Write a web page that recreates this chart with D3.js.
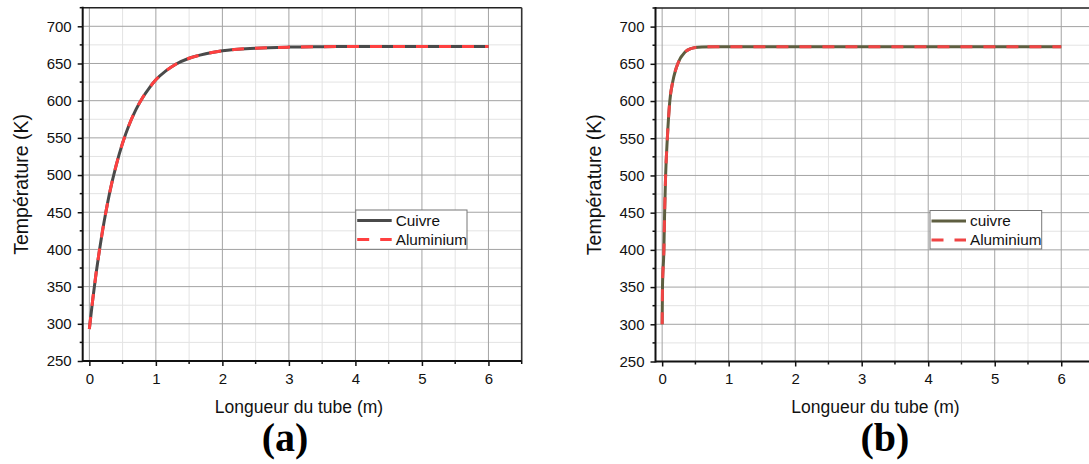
<!DOCTYPE html>
<html>
<head>
<meta charset="utf-8">
<script src="https://cdn.jsdelivr.net/npm/d3@7"></script>
<style>
  html, body { margin: 0; padding: 0; background: #fff; }
  svg { display: block; }
  text { font-family: "Liberation Sans", Arial, sans-serif; fill: #111; }
  text.tag { font-family: "Liberation Serif", "Times New Roman", serif; font-weight: bold; fill: #000; }
</style>
</head>
<body>
<svg id="chart" width="1089" height="464"></svg>
<script>
// ---- Data ----
// Panel (a)
const xA = [0, 0.05, 0.1, 0.15, 0.2, 0.25, 0.3, 0.4, 0.5, 0.6, 0.7, 0.8, 0.9, 1.0, 1.15, 1.3, 1.5, 1.75, 2.0, 2.5, 3.0, 3.5, 4.0, 5.0, 6.0];
const cuivreA = [293, 332, 367, 398, 426, 451, 474, 512, 543, 568, 588, 604, 617, 628, 640, 649, 657, 663, 667, 670.5, 672, 672.6, 673, 673, 673];
const aluminiumA = [293, 332, 367, 398, 426, 451, 474, 512, 543, 568, 588, 604, 617, 628, 640, 649, 657, 663, 667, 670.5, 672, 672.6, 673, 673, 673];
// Panel (b)
const xB = [0, 0.005, 0.026, 0.037, 0.052, 0.078, 0.115, 0.157, 0.2, 0.235, 0.27, 0.31, 0.36, 0.42, 0.5, 0.6, 0.8, 1.0, 2.0, 3.0, 4.0, 5.0, 6.0];
const cuivreB = [300, 350, 400, 450, 500, 550, 600, 625, 641, 650, 657, 662, 667, 670, 672, 672.7, 673, 673, 673, 673, 673, 673, 673];
const aluminiumB = [300, 350, 400, 450, 500, 550, 600, 625, 641, 650, 657, 662, 667, 670, 672, 672.7, 673, 673, 673, 673, 673, 673, 673];

const xTicks = [0, 1, 2, 3, 4, 5, 6];
const yTicks = [250, 300, 350, 400, 450, 500, 550, 600, 650, 700];
const xMinor = [0.5, 1.5, 2.5, 3.5, 4.5, 5.5, 6.5];
const yMinor = [275, 325, 375, 425, 475, 525, 575, 625, 675, 725];
const legendA = ["Cuivre", "Aluminium"];
const legendB = ["cuivre", "Aluminium"];
const xTitle = "Longueur du tube (m)";
const yTitle = "Température (K)";

const svg = d3.select("#chart");

function panel(opts) {
  const { left, right, top, bottom, xs, s1, s2, names, c1, c2, tag, legX, legY, legW, legH, labX, tagX, id } = opts;
  const x = d3.scaleLinear().domain([-0.1, 6.5]).range([left, right]);
  const y = d3.scaleLinear().domain([250, 725]).range([bottom, top]);
  const g = svg.append("g");

  g.append("clipPath").attr("id", "clip" + id)
    .append("rect").attr("x", left).attr("y", top).attr("width", right - left).attr("height", bottom - top);

  // minor grid
  g.append("g").selectAll("line").data(xMinor).join("line")
    .attr("x1", d => x(d)).attr("x2", d => x(d)).attr("y1", top).attr("y2", bottom)
    .attr("stroke", "#e3e3e3").attr("stroke-width", 1);
  g.append("g").selectAll("line").data(yMinor).join("line")
    .attr("x1", left).attr("x2", right).attr("y1", d => y(d)).attr("y2", d => y(d))
    .attr("stroke", "#e3e3e3").attr("stroke-width", 1);
  // major grid
  g.append("g").selectAll("line").data(xTicks).join("line")
    .attr("x1", d => x(d)).attr("x2", d => x(d)).attr("y1", top).attr("y2", bottom)
    .attr("stroke", "#a3a3a3").attr("stroke-width", 1);
  g.append("g").selectAll("line").data(yTicks.filter(d => d > 250)).join("line")
    .attr("x1", left).attr("x2", right).attr("y1", d => y(d)).attr("y2", d => y(d))
    .attr("stroke", "#a3a3a3").attr("stroke-width", 1);

  // frame (top & right)
  g.append("line").attr("x1", left).attr("x2", right).attr("y1", top).attr("y2", top)
    .attr("stroke", "#222").attr("stroke-width", 1.6);
  g.append("line").attr("x1", right).attr("x2", right).attr("y1", top).attr("y2", bottom)
    .attr("stroke", "#333").attr("stroke-width", 1.6);

  // axes
  const xAxis = d3.axisBottom(x).tickValues(xTicks).tickSize(5).tickPadding(7).tickFormat(d3.format("d"));
  const yAxis = d3.axisLeft(y).tickValues(yTicks).tickSize(5).tickPadding(6).tickFormat(d3.format("d"));
  const gx = g.append("g").attr("transform", `translate(0,${bottom})`).call(xAxis);
  const gy = g.append("g").attr("transform", `translate(${left},0)`).call(yAxis);
  [gx, gy].forEach(a => {
    a.select(".domain").remove();
    a.selectAll(".tick line").attr("stroke", "#111").attr("stroke-width", 1.5);
    a.selectAll(".tick text").attr("font-size", 15).attr("fill", "#111");
  });
  // minor ticks
  g.append("g").selectAll("line").data(xMinor).join("line")
    .attr("x1", d => x(d)).attr("x2", d => x(d)).attr("y1", bottom).attr("y2", bottom + 3)
    .attr("stroke", "#111").attr("stroke-width", 1.5);
  g.append("g").selectAll("line").data(yMinor).join("line")
    .attr("x1", left - 3).attr("x2", left).attr("y1", d => y(d)).attr("y2", d => y(d))
    .attr("stroke", "#111").attr("stroke-width", 1.5);
  // axis lines
  g.append("line").attr("x1", left).attr("x2", right).attr("y1", bottom).attr("y2", bottom)
    .attr("stroke", "#111").attr("stroke-width", 2);
  g.append("line").attr("x1", left).attr("x2", left).attr("y1", top - 1).attr("y2", bottom + 1)
    .attr("stroke", "#111").attr("stroke-width", 2);

  // curves
  const line = d3.line().x(d => x(d[0])).y(d => y(d[1])).curve(d3.curveMonotoneX);
  const curves = g.append("g").attr("clip-path", `url(#clip${id})`);
  curves.append("path").attr("d", line(xs.map((v, i) => [v, s1[i]])))
    .attr("fill", "none").attr("stroke", c1).attr("stroke-width", 3);
  curves.append("path").attr("d", line(xs.map((v, i) => [v, s2[i]])))
    .attr("fill", "none").attr("stroke", c2).attr("stroke-width", 3)
    .attr("stroke-dasharray", "12,11");

  // legend
  const lg = g.append("g");
  lg.append("rect").attr("x", legX).attr("y", legY).attr("width", legW).attr("height", legH)
    .attr("fill", "#fff").attr("stroke", "#777").attr("stroke-width", 1);
  const rows = [legY + 10.5, legY + 29.5];
  lg.append("line").attr("x1", legX + 1.5).attr("x2", legX + 36).attr("y1", rows[0]).attr("y2", rows[0])
    .attr("stroke", c1).attr("stroke-width", 3);
  lg.append("line").attr("x1", legX + 1.5).attr("x2", legX + 36).attr("y1", rows[1]).attr("y2", rows[1])
    .attr("stroke", c2).attr("stroke-width", 3).attr("stroke-dasharray", "12,11");
  names.forEach((n, i) => {
    lg.append("text").attr("x", legX + 40).attr("y", rows[i]).attr("dy", "0.35em")
      .attr("font-size", 15.3).text(n);
  });

  // titles
  g.append("text").attr("x", labX).attr("y", 413).attr("text-anchor", "middle")
    .attr("font-size", 17.5).text(xTitle);
  g.append("text").attr("transform", `translate(${left - 55},${(top + bottom) / 2}) rotate(-90)`)
    .attr("text-anchor", "middle").attr("font-size", 19.5).text(yTitle);
  g.append("text").attr("class", "tag").attr("x", tagX).attr("y", 451).attr("text-anchor", "middle")
    .attr("font-size", 40).text(tag);
}

panel({ id: "a", left: 82.7, right: 521.7, top: 7.7, bottom: 361, xs: xA, s1: cuivreA, s2: aluminiumA,
  names: legendA, c1: "#4a4a4a", c2: "#ff4040", tag: "(a)",
  legX: 355.7, legY: 210, legW: 111.3, legH: 39.3, labX: 299, tagX: 285 });
panel({ id: "b", left: 655.5, right: 1094.5, top: 8, bottom: 361.5, xs: xB, s1: cuivreB, s2: aluminiumB,
  names: legendB, c1: "#5e5e40", c2: "#f04444", tag: "(b)",
  legX: 930, legY: 210.5, legW: 111.7, legH: 38.5, labX: 875.5, tagX: 885 });
</script>
</body>
</html>
